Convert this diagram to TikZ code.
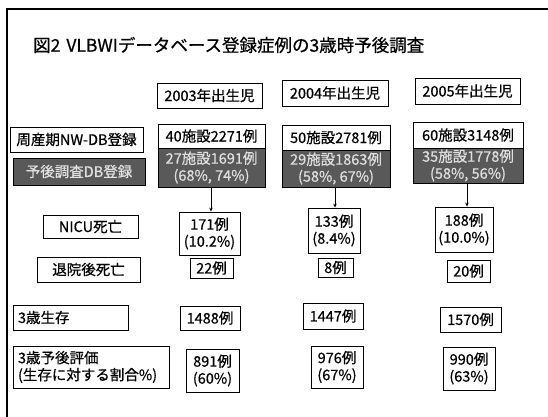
\documentclass[tikz,border=0pt]{standalone}
\usepackage{fontspec}
\setmainfont{Noto Sans CJK JP}[FakeBold=0.6]
\usetikzlibrary{arrows.meta}
\begin{document}
\begin{tikzpicture}[x=1pt,y=-1pt,
  box/.style={draw=black, line width=0.8pt, inner sep=0pt, align=center,
    font=\fontsize{14.5}{17}\selectfont},
  dark/.style={box, fill=black!65, text=black!12},
  leftbox/.style={box, align=left, inner xsep=5pt},
  arr/.style={line width=0.7pt, -{Stealth[length=4pt,width=3.5pt]}}]
\useasboundingbox (0,0) rectangle (548,417);
% frame
\draw[line width=1.4pt] (7,417) -- (7,9) -- (548,9);
% title
\node[anchor=west, inner sep=0pt, font=\fontsize{17.5}{20}\selectfont] (title) at (33,45)
  {図2\hspace{6pt}VLBWIデータベース登録症例の3歳時予後調査};
% year headers
\node[box, minimum width=105pt, minimum height=25pt] (y1) at (209.5,95.5) {2003年出生児};
\node[box, minimum width=106pt, minimum height=26pt] (y2) at (335,93) {2004年出生児};
\node[box, minimum width=105pt, minimum height=26pt] (y3) at (467.5,91) {2005年出生児};
% row labels
\node[box, minimum width=133pt, minimum height=25pt] (l1) at (76.5,139.5) {周産期NW-DB登録};
\node[dark, minimum width=132pt, minimum height=27pt] (l2) at (79,171.5) {予後調査DB登録};
\node[box, minimum width=95pt, minimum height=23pt] (l3) at (90.5,226.5) {NICU死亡};
\node[box, minimum width=103pt, minimum height=25pt] (l4) at (88.5,269.5) {退院後死亡};
\node[leftbox, text width=105pt, minimum height=25pt] (l5) at (70.5,317.5) {3歳生存};
\node[leftbox, text width=146pt, minimum height=42pt] (l6) at (91,367) {3歳予後評価\\(生存に対する割合\%)};
% 2003 column
\node[box, minimum width=107pt, minimum height=24pt] (a1) at (211.5,136) {40施設2271例};
\node[dark, minimum width=107pt, minimum height=39pt] (b1) at (211.5,167.5) {27施設1691例\\(68\%, 74\%)};
\node[box, minimum width=61pt, minimum height=43pt] (c1) at (209.5,233.5) {171例\\(10.2\%)};
\node[box, minimum width=43pt, minimum height=20pt] (d1) at (211.5,268) {22例};
\node[box, minimum width=60pt, minimum height=24pt] (e1) at (210,318) {1488例};
\node[box, minimum width=53pt, minimum height=43pt] (f1) at (212.5,370.5) {891例\\(60\%)};
% 2004 column
\node[box, minimum width=108pt, minimum height=25pt] (a2) at (336,137.5) {50施設2781例};
\node[dark, minimum width=108pt, minimum height=37pt] (b2) at (336,168.5) {29施設1863例\\(58\%, 67\%)};
\node[box, minimum width=52pt, minimum height=45pt] (c2) at (334,230.5) {133例\\(8.4\%)};
\node[box, minimum width=35pt, minimum height=19pt] (d2) at (335.5,267.5) {8例};
\node[box, minimum width=60pt, minimum height=26pt] (e2) at (333,316) {1447例};
\node[box, minimum width=52pt, minimum height=42pt] (f2) at (337,367) {976例\\(67\%)};
% 2005 column
\node[box, minimum width=110pt, minimum height=26pt] (a3) at (468,135) {60施設3148例};
\node[dark, minimum width=110pt, minimum height=35pt] (b3) at (468,165.5) {35施設1778例\\(58\%, 56\%)};
\node[box, minimum width=58pt, minimum height=45pt] (c3) at (464,229.5) {188例\\(10.0\%)};
\node[box, minimum width=43pt, minimum height=22pt] (d3) at (468.5,271) {20例};
\node[box, minimum width=61pt, minimum height=25pt] (e3) at (470.5,319.5) {1570例};
\node[box, minimum width=52pt, minimum height=43pt] (f3) at (469,368.5) {990例\\(63\%)};
% arrows
\draw[arr] (b1.south) ++(-0.5,0) coordinate (s1) -- (s1 |- c1.north);
\draw[arr] (b2.south) ++(-1,0) coordinate (s2) -- (s2 |- c2.north);
\draw[arr] (b3.south) ++(-1,0) coordinate (s3) -- (s3 |- c3.north);
\end{tikzpicture}
\end{document}
